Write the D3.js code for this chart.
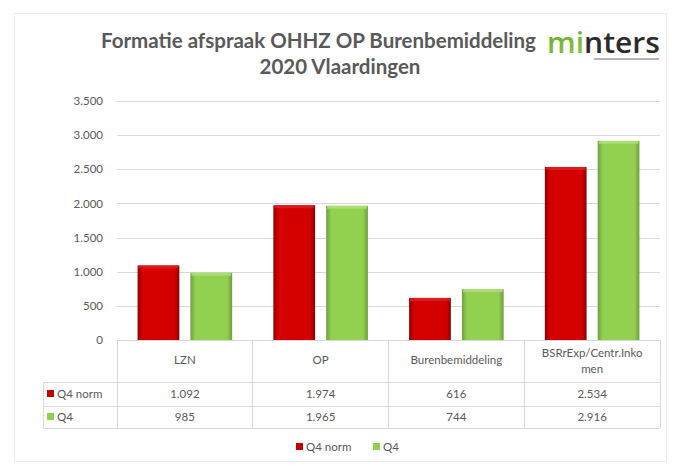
<!DOCTYPE html>
<html>
<head>
<meta charset="utf-8">
<script src="https://cdn.jsdelivr.net/npm/d3@7"></script>
<style>
  body { margin: 0; background: #ffffff; }
  text { font-family: Lato, "Open Sans", sans-serif; }
</style>
</head>
<body>
<script>
var width = 675;
var height = 469;

// data
var categories = ["LZN", "OP", "Burenbemiddeling", "BSRrExp/Centr.Inkomen"];
var categoryLines = [["LZN"], ["OP"], ["Burenbemiddeling"], ["BSRrExp/Centr.Inko", "men"]];
var seriesNames = ["Q4 norm", "Q4"];
var q4norm = [1092, 1974, 616, 2534];
var q4 = [985, 1965, 744, 2916];
var yTicks = [0, 500, 1000, 1500, 2000, 2500, 3000, 3500];
var seriesColors = ["#c00000", "#92d050"];

var nl = d3.formatLocale({decimal: ",", thousands: ".", grouping: [3], currency: ["€", ""]});
var fmt = nl.format(",d");

var plotLeft = 117, plotRight = 660, plotTop = 101, plotBottom = 340;
var textColor = "#595959";
var lineColor = "#d9d9d9";

var svg = d3.select("body")
    .append("svg")
    .attr("width", width)
    .attr("height", height);

// gradients for the bevelled bars
var defs = svg.append("defs");
function barGrad(id, edge, mid) {
    var g = defs.append("linearGradient").attr("id", id)
        .attr("x1", "0%").attr("x2", "100%").attr("y1", "0%").attr("y2", "0%");
    g.append("stop").attr("offset", "0%").attr("stop-color", edge);
    g.append("stop").attr("offset", "12%").attr("stop-color", mid);
    g.append("stop").attr("offset", "88%").attr("stop-color", mid);
    g.append("stop").attr("offset", "100%").attr("stop-color", edge);
}
barGrad("gRed", "#8e0000", "#d40000");
barGrad("gGreen", "#6f9e3c", "#92d050");

var logoGrad = defs.append("linearGradient").attr("id", "gLogo")
    .attr("x1", "0%").attr("x2", "100%").attr("y1", "0%").attr("y2", "100%");
logoGrad.append("stop").attr("offset", "0%").attr("stop-color", "#5aa832");
logoGrad.append("stop").attr("offset", "60%").attr("stop-color", "#8cc63f");
logoGrad.append("stop").attr("offset", "100%").attr("stop-color", "#d8e04a");

// chart frame
svg.append("rect")
    .attr("x", 14.5).attr("y", 13.5)
    .attr("width", 652).attr("height", 448)
    .attr("fill", "#fff")
    .attr("stroke", "#ececec");

// scales
var x = d3.scaleBand().domain(categories).range([plotLeft, plotRight]);
var x1 = d3.scaleBand().domain(seriesNames).range([0, x.bandwidth()])
    .paddingInner(0.21).paddingOuter(0.39);
var y = d3.scaleLinear().domain([0, 3500]).range([plotBottom, plotTop]);

// gridlines
svg.append("g")
    .selectAll("line")
    .data(yTicks.slice(1))
    .enter()
    .append("line")
    .attr("x1", plotLeft).attr("x2", plotRight)
    .attr("y1", function(d) { return Math.round(y(d)) + 0.5; })
    .attr("y2", function(d) { return Math.round(y(d)) + 0.5; })
    .attr("stroke", lineColor);

// y axis labels
var yAxis = d3.axisLeft(y).tickValues(yTicks).tickFormat(fmt).tickSize(0).tickPadding(14);
var ya = svg.append("g").attr("transform", "translate(" + plotLeft + ",0)").call(yAxis);
ya.select(".domain").remove();
ya.selectAll("text")
    .attr("fill", textColor)
    .style("font-family", "Lato, sans-serif")
    .style("font-size", "11.5px");

// bars
var rows = categories.map(function(c, i) {
    return {cat: c, vals: [{s: seriesNames[0], v: q4norm[i]}, {s: seriesNames[1], v: q4[i]}]};
});

var groups = svg.append("g")
    .selectAll("g")
    .data(rows)
    .enter()
    .append("g")
    .attr("transform", function(d) { return "translate(" + x(d.cat) + ",0)"; });

groups.selectAll("rect")
    .data(function(d) { return d.vals; })
    .enter()
    .append("rect")
    .attr("x", function(d) { return x1(d.s); })
    .attr("y", function(d) { return y(d.v); })
    .attr("width", x1.bandwidth())
    .attr("height", function(d) { return y(0) - y(d.v); })
    .attr("fill", function(d) { return d.s === seriesNames[0] ? "url(#gRed)" : "url(#gGreen)"; });

// top highlight
groups.selectAll("rect.top")
    .data(function(d) { return d.vals; })
    .enter()
    .append("rect")
    .attr("class", "top")
    .attr("x", function(d) { return x1(d.s) + 1; })
    .attr("y", function(d) { return y(d.v); })
    .attr("width", x1.bandwidth() - 2)
    .attr("height", 3)
    .attr("fill", function(d) { return d.s === seriesNames[0] ? "#e02020" : "#b2e07a"; })
    .attr("opacity", 0.8);

// data table
var tableLeft = 43;
var rowY = [plotBottom, 382, 406, 428];
var tg = svg.append("g").attr("stroke", lineColor).attr("shape-rendering", "crispEdges");

// horizontal lines
tg.append("line").attr("x1", plotLeft).attr("x2", plotRight).attr("y1", plotBottom).attr("y2", plotBottom);
[rowY[1], rowY[2], rowY[3]].forEach(function(yy) {
    tg.append("line").attr("x1", tableLeft).attr("x2", plotRight).attr("y1", yy).attr("y2", yy);
});
// vertical lines
var colEdges = categories.map(function(c) { return x(c); }).concat([plotRight]);
colEdges.forEach(function(xx) {
    tg.append("line").attr("x1", xx).attr("x2", xx).attr("y1", plotBottom).attr("y2", rowY[3]);
});
tg.append("line").attr("x1", tableLeft).attr("x2", tableLeft).attr("y1", rowY[1]).attr("y2", rowY[3]);

// header labels
var hdr = svg.append("g")
    .selectAll("text")
    .data(categories)
    .enter()
    .append("text")
    .attr("text-anchor", "middle")
    .attr("fill", textColor)
    .style("font-size", "11.5px")
    .attr("x", function(d) { return x(d) + x.bandwidth() / 2; })
    .attr("y", function(d, i) { return categoryLines[i].length > 1 ? 357 : 364; });

hdr.selectAll("tspan")
    .data(function(d, i) { return categoryLines[i]; })
    .enter()
    .append("tspan")
    .attr("x", function() { var p = this.parentNode; return p.getAttribute("x"); })
    .attr("dy", function(d, i) { return i === 0 ? 0 : 16; })
    .text(function(d) { return d; });

// values rows
var seriesVals = [q4norm, q4];
seriesVals.forEach(function(vals, si) {
    var cy = (rowY[si + 1] + rowY[si + 2]) / 2 + 4;
    svg.append("g")
        .selectAll("text")
        .data(vals)
        .enter()
        .append("text")
        .attr("text-anchor", "middle")
        .attr("fill", textColor)
        .style("font-size", "11.5px")
        .attr("x", function(d, i) { return x(categories[i]) + x.bandwidth() / 2; })
        .attr("y", cy)
        .text(function(d) { return fmt(d); });
    svg.append("rect")
        .attr("x", 47).attr("y", cy - 8)
        .attr("width", 7).attr("height", 7)
        .attr("fill", seriesColors[si]);
    svg.append("text")
        .attr("x", 57).attr("y", cy)
        .attr("fill", textColor)
        .style("font-size", "11.5px")
        .text(seriesNames[si]);
});

// bottom legend
var legendX = [296, 373];
seriesNames.forEach(function(s, si) {
    svg.append("rect")
        .attr("x", legendX[si]).attr("y", 443)
        .attr("width", 7).attr("height", 7)
        .attr("fill", seriesColors[si]);
    svg.append("text")
        .attr("x", legendX[si] + 10).attr("y", 451)
        .attr("fill", textColor)
        .style("font-size", "11.5px")
        .text(s);
});

// title
svg.append("text")
    .attr("x", 101).attr("y", 48)
    .attr("fill", textColor)
    .style("font-size", "20.5px")
    .style("font-weight", "bold")
    .text("Formatie afspraak OHHZ OP Burenbemiddeling");
svg.append("text")
    .attr("x", 340).attr("y", 74)
    .attr("text-anchor", "middle")
    .attr("fill", textColor)
    .style("font-size", "20.5px")
    .style("font-weight", "bold")
    .text("2020 Vlaardingen");

// logo box covering the end of the title
var logo = svg.append("g");
logo.append("rect")
    .attr("x", 537).attr("y", 24)
    .attr("width", 127).attr("height", 40)
    .attr("fill", "#fff");
var lt = logo.append("text")
    .attr("x", 547).attr("y", 53)
    .attr("textLength", 113)
    .attr("lengthAdjust", "spacingAndGlyphs")
    .style("font-size", "28px")
    .style("font-weight", "600")
    .style("font-family", "'Open Sans', sans-serif");
lt.append("tspan").attr("fill", "url(#gLogo)").text("mi");
lt.append("tspan").attr("fill", "#2b2b2b").text("nters");
logo.append("line")
    .attr("x1", 594).attr("x2", 659)
    .attr("y1", 59).attr("y2", 59)
    .attr("stroke", "#9a9a9a")
    .attr("stroke-width", 1.5);
</script>
</body>
</html>
